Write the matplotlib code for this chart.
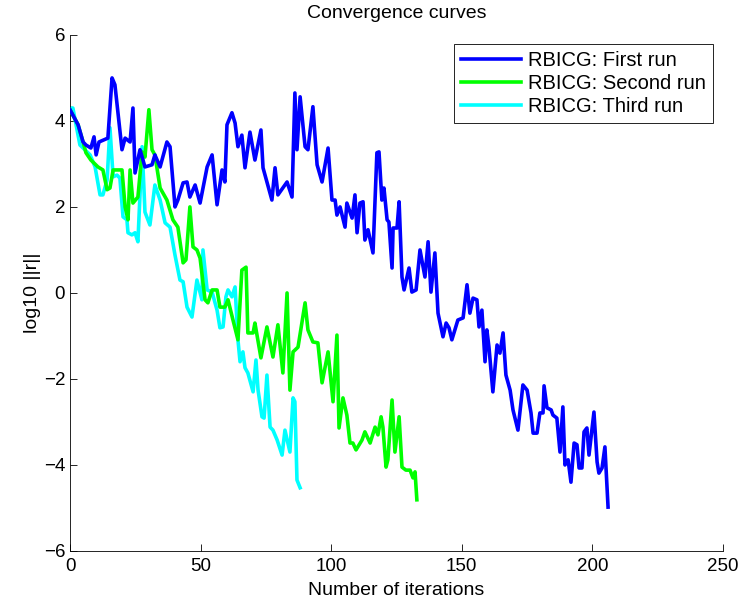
import matplotlib
matplotlib.use("Agg")
import matplotlib.pyplot as plt

plt.rcParams['font.family'] = ['Liberation Sans', 'DejaVu Sans']
plt.rcParams['font.size'] = 14

# first run (iteration, log10 residual)
it1 = [0, 3.1, 5.0, 6.1, 8.0, 9.2, 10.0, 11.1, 13.0, 14.5, 16.1, 17.2, 19.9, 21.1, 23.0,
       24.1, 24.9, 26.8, 28.7, 31.4, 32.5, 34.5, 37.1, 38.3, 40.2, 41.3, 43.3, 44.8, 45.9,
       47.9, 49.8, 52.5, 54.4, 56.3, 58.2, 59.3, 60.1, 62.0, 63.2, 64.3, 65.8, 67.0, 68.9,
       70.8, 73.1, 73.9, 77.3, 78.5, 79.6, 83.1, 85.0, 86.1, 86.9, 88.1, 90.0, 91.1, 93.0,
       94.6, 96.5, 98.8, 100.3, 101.5, 102.2, 103.4, 105.3, 106.0, 108.0, 109.1, 109.9,
       111.0, 112.2, 112.9, 114.1, 116.0, 117.5, 118.3, 119.4, 120.2, 121.4, 122.1, 123.3,
       123.7, 125.2, 126.0, 127.1, 127.9, 129.8, 130.9, 132.5, 134.0, 135.9, 137.1, 138.2,
       139.7, 140.9, 142.8, 144.0, 145.1, 146.2, 148.5, 150.5, 152.0, 153.1, 154.3, 155.8,
       156.6, 157.7, 158.9, 159.6, 160.4, 161.9, 163.5, 164.6, 165.8, 166.9, 168.5, 169.6,
       171.5, 173.4, 175.0, 176.5, 177.3, 178.8, 179.9, 181.1, 181.5, 182.6, 184.2, 184.9,
       186.4, 187.6, 188.7, 189.5, 190.7, 191.8, 193.0, 194.1, 194.9, 196.0, 196.8, 197.9,
       198.7, 200.6, 201.8, 202.5, 203.7, 204.8, 206.0]
r1 = [4.26, 3.91, 3.51, 3.44, 3.37, 3.63, 3.21, 3.51, 3.56, 3.60, 5.00, 4.84, 3.33, 3.60, 3.51,
      4.30, 2.79, 3.33, 2.93, 2.98, 3.21, 2.93, 3.51, 3.40, 2.00, 2.16, 2.56, 2.58, 2.23,
      2.51, 2.09, 2.93, 3.21, 2.05, 2.86, 2.58, 3.91, 4.19, 3.95, 3.40, 3.67, 2.91, 3.74,
      3.09, 3.79, 2.91, 2.16, 2.91, 2.28, 2.58, 2.23, 4.65, 3.33, 4.56, 3.40, 3.33, 4.33,
      2.98, 2.58, 3.37, 2.16, 2.16, 1.81, 2.00, 1.53, 2.09, 1.74, 2.28, 1.40,
      2.09, 2.12, 1.23, 1.47, 0.93, 3.26, 3.28, 2.16, 2.44, 1.70, 1.65, 0.58,
      1.51, 1.51, 2.12, 0.37, 0.07, 0.58, 0.02, 0.07, 1.00, 0.37, 1.19, 0.02,
      0.93, -0.47, -1.02, -0.70, -0.81, -1.09, -0.63, -0.58, 0.19, -0.47, -0.12, -0.16,
      -0.79, -0.40, -1.60, -0.86, -1.26, -2.30, -1.21, -1.40, -0.93, -1.91, -2.26, -2.72,
      -3.19, -2.14, -2.26, -2.79, -3.26, -3.26, -2.79, -2.79, -2.16, -2.67, -2.72, -2.84,
      -2.91, -3.70, -2.65, -4.00, -3.88, -4.40, -3.49, -3.53, -4.07, -4.07, -3.23, -3.14,
      -3.77, -2.77, -3.93, -4.19, -4.07, -3.58, -4.98]

# second run
it2 = [0, 3.1, 5.0, 6.1, 8.0, 10.7, 12.6, 14.2, 15.3, 16.5, 19.9, 21.1, 22.2, 23.0, 24.1,
       26.0, 27.6, 28.7, 30.2, 31.4, 32.5, 34.5, 37.1, 39.4, 41.3, 43.3, 44.4, 45.9, 47.1,
       48.6, 49.8, 51.7, 52.8, 54.4, 56.3, 57.4, 59.3, 60.5, 62.4, 64.3, 65.8, 67.4, 68.1,
       70.1, 70.8, 73.1, 75.4, 77.7, 79.6, 81.5, 83.1, 84.2, 85.4, 87.3, 90.0, 91.1, 93.0,
       94.9, 96.5, 98.8, 100.7, 102.2, 103.0, 104.5, 106.0, 107.2, 108.3, 109.5, 111.8,
       112.9, 114.9, 116.8, 117.9, 119.1, 119.8, 121.0, 121.7, 123.3, 124.4, 126.0, 127.1,
       128.6, 130.2, 131.3, 132.1, 132.8]
r2 = [4.26, 3.91, 3.51, 3.26, 3.09, 2.93, 2.86, 2.40, 2.44, 2.86, 2.86, 2.00, 1.70, 2.86, 2.09,
      2.23, 3.28, 3.16, 4.26, 3.33, 3.21, 2.44, 2.16, 1.70, 1.53, 0.70, 0.77, 2.00, 1.07,
      1.00, 0.81, -0.16, -0.23, 0.07, 0.07, -0.33, -0.33, -0.16, -0.63, -1.09, 0.53, 0.60, -0.93,
      -0.93, -0.70, -1.51, -0.79, -1.49, -0.74, -1.86, 0.00, -2.26, -1.37, -1.26, -0.23, -0.86, -1.14,
      -1.16, -2.09, -1.37, -2.53, -0.98, -3.14, -2.44, -2.84, -3.49, -3.49, -3.65, -3.42,
      -3.23, -3.49, -3.12, -3.30, -2.88, -3.12, -4.05, -3.88, -2.49, -3.70, -2.88, -4.05,
      -4.12, -4.12, -4.30, -4.16, -4.81]

# third run
it3 = [0, 1.1, 3.8, 5.7, 7.7, 9.6, 11.5, 12.6, 14.2, 15.3, 16.5, 18.0, 19.1, 20.3, 21.8,
       22.2, 23.7, 24.9, 26.0, 27.6, 28.7, 30.6, 32.5, 34.5, 36.4, 38.3, 40.2, 42.1, 43.3,
       44.8, 46.7, 48.6, 50.5, 50.9, 52.5, 54.4, 56.3, 57.4, 58.6, 59.7, 60.5, 62.0, 63.2,
       64.3, 65.1, 66.2, 67.0, 68.1, 70.1, 71.2, 72.0, 73.5, 74.3, 75.4, 76.6, 77.7, 79.3,
       81.2, 82.3, 84.2, 85.4, 86.1, 86.9, 88.1]
r3 = [4.30, 4.30, 3.44, 3.33, 3.21, 2.93, 2.28, 2.28, 2.63, 3.84, 2.70, 2.74, 2.67, 1.77, 1.70,
      1.40, 1.35, 1.40, 1.19, 3.40, 1.88, 1.58, 2.51, 2.16, 1.63, 1.53, 0.88, 0.30, 0.26,
      -0.33, -0.56, 0.30, -0.16, 1.00, 0.07, 0.02, -0.40, -0.81, -0.79, -0.09, 0.07, -0.09, 0.14,
      -1.09, -1.60, -1.37, -1.74, -1.86, -2.30, -1.56, -2.26, -2.88, -2.91, -1.91, -3.12, -3.19, -3.42,
      -3.77, -3.19, -3.70, -2.44, -2.53, -4.35, -4.53]

labels = ['RBICG: First run', 'RBICG: Second run', 'RBICG: Third run']
colors = ['#0000ff', '#00ff00', '#00ffff']

fig = plt.figure(figsize=(7.4, 6.05), dpi=100)
ax = fig.add_axes([0.0946, 0.0893, 0.8824, 0.853])

# later runs first so blue stays on top
ax.plot(it3, r3, color=colors[2], lw=2.6, label=labels[2], zorder=2)
ax.plot(it2, r2, color=colors[1], lw=2.6, label=labels[1], zorder=3)
ax.plot(it1, r1, color=colors[0], lw=2.6, label=labels[0], zorder=4)

ax.set_xlim(0, 250)
ax.set_ylim(-6, 6)
ax.set_xticks([0, 50, 100, 150, 200, 250])
ax.set_yticks([-6, -4, -2, 0, 2, 4, 6])
ax.spines['top'].set_visible(False)
ax.spines['right'].set_visible(False)
ax.tick_params(direction='in', length=5, width=0.6, labelsize=13.5)
ax.tick_params(axis='x', pad=5)
for s in ['left', 'bottom']:
    ax.spines[s].set_linewidth(0.6)

ax.set_title('Convergence curves', fontsize=14, pad=12)
ax.set_xlabel('Number of iterations', fontsize=14, labelpad=5)
ax.set_ylabel('log10 ||r||', fontsize=14, labelpad=2)

h, l = ax.get_legend_handles_labels()
leg = ax.legend(h[::-1], l[::-1], loc='upper right', bbox_to_anchor=(0.985, 0.983),
                fancybox=False, edgecolor='black', framealpha=1, handlelength=3.0,
                handletextpad=0.35, borderaxespad=0, fontsize=14.5, labelspacing=0.2,
                borderpad=0.35)
leg.get_frame().set_linewidth(0.6)

fig.savefig('out.png', dpi=100)
